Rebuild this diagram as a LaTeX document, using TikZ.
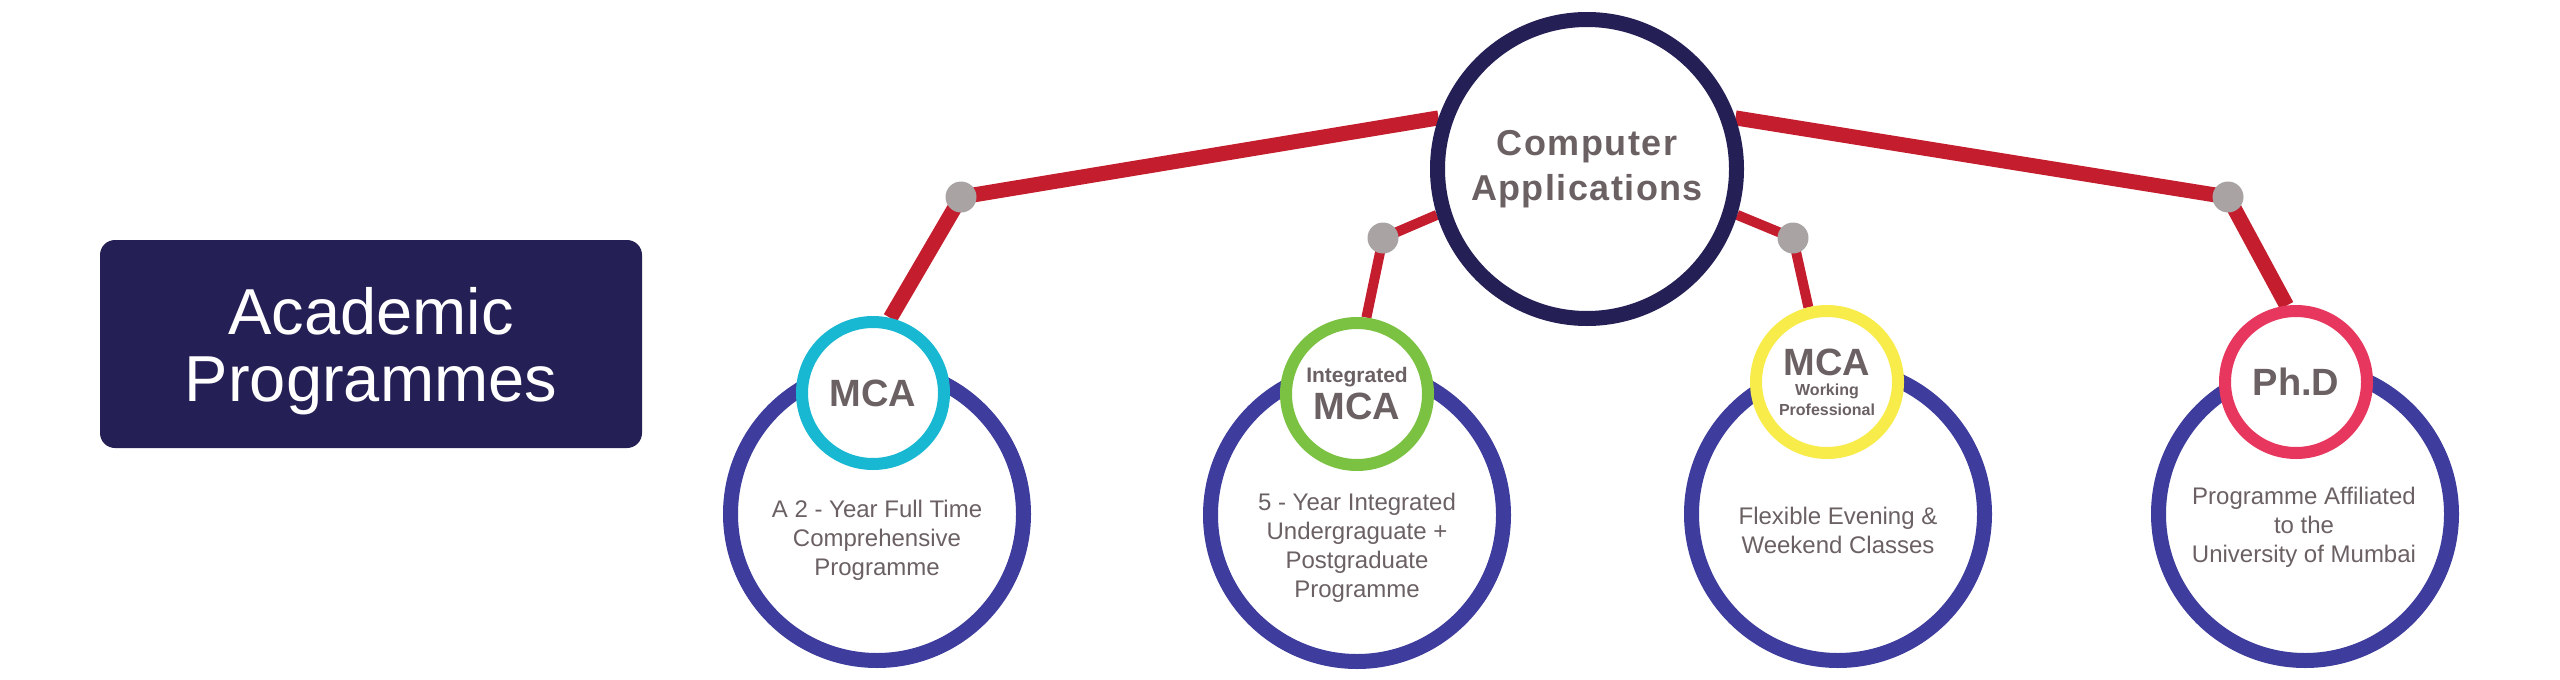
\documentclass[tikz,border=0pt]{standalone}
\usepackage{fontspec}
\setmainfont{Liberation Sans}
\newfontfamily\headfont[LetterSpace=4]{Liberation Sans}
\usepackage{xcolor}
\usetikzlibrary{positioning, backgrounds}
\definecolor{navy}{HTML}{241F55}
\definecolor{ringblue}{HTML}{3E3C9C}
\definecolor{linkred}{HTML}{C41E2E}
\definecolor{jointgrey}{HTML}{A9A3A4}
\definecolor{txtgrey}{HTML}{6B6162}
\definecolor{mcacyan}{HTML}{18B8D3}
\definecolor{intgreen}{HTML}{7CC242}
\definecolor{wpyellow}{HTML}{F8EC4A}
\definecolor{phdpink}{HTML}{E8375E}

\begin{document}
\begin{tikzpicture}[
    x=1pt, y=-1pt,
    titlebox/.style={rectangle, rounded corners=15pt, fill=navy, minimum width=542pt, minimum height=208pt},
    titletext/.style={text=white, align=center, font=\fontsize{65}{67}\selectfont},
    hub/.style={circle, draw=navy, line width=15pt, fill=white, minimum size=299pt, inner sep=0pt, align=center, text=txtgrey, font=\headfont\bfseries\fontsize{36}{45}\selectfont},
    ring/.style={circle, draw=ringblue, line width=15pt, fill=white, minimum size=293pt, inner sep=0pt},
    badge/.style={circle, draw=#1, line width=12pt, fill=white, minimum size=142pt, inner sep=0pt, align=center, text=txtgrey, font=\bfseries\fontsize{38}{37}\selectfont},
    desc/.style={align=center, text=txtgrey, font=\fontsize{24}{29}\selectfont},
    joint/.style={circle, fill=jointgrey, minimum size=31pt, inner sep=0pt},
    wire/.style={draw=linkred, line width=#1}
]
    \useasboundingbox (0,0) rectangle (2560,680);

    \node[titlebox] (title) at (371,344) {};
    \node[titletext] (titletxt) at (371,351) {Academic\\Programmes};

    \node[hub] (hub) at (1587,169) {Computer\\Applications};

    % Programme rings with their badges
    \node[ring] (mcaring) at (877,514) {};
    \node[ring] (intring) at (1357,515) {};
    \node[ring] (wpring) at (1838,514) {};
    \node[ring] (phdring) at (2305,514) {};

    \node[badge=mcacyan] (mca) at (873,393) {MCA};
    \node[badge=intgreen] (int) at (1357,394) {{\fontsize{21}{21}\selectfont Integrated}\\MCA};
    \node[badge=wpyellow, font=\bfseries\fontsize{38}{20}\selectfont] (wp) at (1827,382) {MCA\\{\fontsize{16}{20}\selectfont Working}\\{\fontsize{16}{20}\selectfont Professional}};
    \node[badge=phdpink] (phd) at (2296,382) {Ph.D};

    \node[desc] (mcadesc) at (877,540) {A 2 - Year Full Time\\Comprehensive\\Programme};
    \node[desc] (intdesc) at (1357,548) {5 - Year Integrated\\Undergraguate +\\Postgraduate\\Programme};
    \node[desc] (wpdesc) at (1838,530) {Flexible Evening \&\\Weekend Classes};
    \node[desc] (phddesc) at (2304,527) {Programme Affiliated\\to the\\University of Mumbai};

    % Joints on the branches
    \node[joint] (jl1) at (961,197) {};
    \node[joint] (jl2) at (1383,238) {};
    \node[joint] (jr2) at (1793,238) {};
    \node[joint] (jr1) at (2228,197) {};

    % Branches from the hub
    \begin{scope}[on background layer]
        \draw[wire=15pt] (hub.161) -- (jl1.center) -- (mca.77);
        \draw[wire=10pt] (hub.197) -- (jl2.center) -- (int.83);
        \draw[wire=10pt] (hub.343) -- (jr2.center) -- (wp.104);
        \draw[wire=15pt] (hub.19) -- (jr1.center) -- (phd.97);
    \end{scope}
\end{tikzpicture}
\end{document}
